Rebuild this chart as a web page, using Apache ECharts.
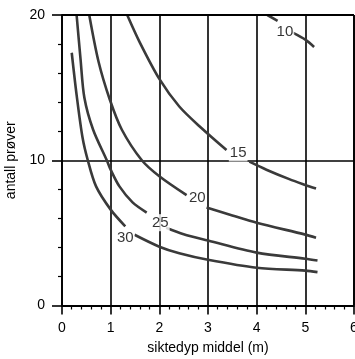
<!DOCTYPE html>
<html>
<head>
<meta charset="utf-8">
<script src="https://cdn.jsdelivr.net/npm/echarts@6/dist/echarts.min.js"></script>
<style>
  html, body { margin: 0; padding: 0; background: #fff; }
  #chart { width: 355px; height: 359px; }
</style>
</head>
<body>
<div id="chart"></div>
<script>
// curves, each broken where its label sits (a = before label, b = after)
var c10a = [[4.22, 20], [4.43, 19.6]];
var c10b = [[4.73, 18.8], [5.0, 18.3], [5.18, 17.8]];
var c15a = [[1.34, 20], [1.6, 18.1], [2.0, 15.6], [2.41, 13.7], [2.87, 12.2], [3.38, 10.7]];
var c15b = [[3.85, 9.9], [4.2, 9.35], [4.67, 8.7], [5.0, 8.3], [5.22, 8.05]];
var c20a = [[0.56, 20], [0.75, 16.8], [0.98, 14.2], [1.23, 12.1], [1.64, 10.0], [2.0, 8.9], [2.56, 7.6]];
var c20b = [[2.97, 6.74], [3.5, 6.2], [4.0, 5.7], [5.0, 4.88], [5.22, 4.67]];
var c25a = [[0.3, 20], [0.38, 17], [0.46, 14.3], [0.64, 12.1], [0.92, 10], [1.0, 9.35], [1.18, 8.2], [1.45, 7.1], [1.74, 6.4]];
var c25b = [[2.14, 5.35], [2.5, 4.9], [3.0, 4.47], [4.0, 3.64], [5.0, 3.22], [5.25, 3.1]];
var c30a = [[0.2, 17.4], [0.3, 14.5], [0.42, 11.6], [0.53, 10], [0.7, 8.2], [1.0, 6.6], [1.3, 5.45]];
var c30b = [[1.49, 4.87], [2.0, 4.05], [2.41, 3.6], [3.0, 3.15], [4.0, 2.6], [5.0, 2.4], [5.25, 2.3]];

var labelText = ['10', '15', '20', '25', '30'];
var labelAt = [[4.58, 18.85], [3.62, 10.5], [2.78, 7.4], [2.02, 5.7], [1.3, 4.65]];

var xTicks = [0, 1, 2, 3, 4, 5, 6];
var yTicks = [0, 10, 20];

var xMin = xTicks[0], xMax = xTicks[xTicks.length - 1];
var yMin = yTicks[0], yMax = yTicks[yTicks.length - 1];

var chart = echarts.init(document.getElementById('chart'));

function curve(d) {
  return {
    type: 'line',
    data: d,
    smooth: 0.3,
    showSymbol: false,
    lineStyle: { color: '#3a3a3a', width: 2.6 },
    z: 3
  };
}

var ser = [c10a, c10b, c15a, c15b, c20a, c20b, c25a, c25b, c30a, c30b].map(curve);

// top and right edges of the frame, drawn through the axes
function edge(d) {
  return {
    type: 'line',
    data: d,
    clip: false,
    showSymbol: false,
    silent: true,
    lineStyle: { color: '#000', width: 1.8 },
    z: 4
  };
}
ser.push(edge([[xMin, yMax], [xMax, yMax]]));
ser.push(edge([[xMax, yMin], [xMax, yMax]]));

ser.push({
  type: 'scatter',
  symbolSize: 0,
  z: 5,
  data: labelAt.map(function (p, i) { return { value: p, name: labelText[i] }; }),
  label: {
    show: true,
    position: 'inside',
    formatter: '{b}',
    color: '#000',
    fontFamily: 'Liberation Sans',
    fontSize: 15,
    backgroundColor: '#fff',
    padding: [1, 1]
  }
});

var axisFont = { color: '#000', fontFamily: 'Liberation Sans', fontSize: 14 };

chart.setOption({
  animation: false,
  grid: {
    left: 62, right: 1, top: 15, bottom: 53.5,
    outerBoundsMode: 'none', containLabel: false
  },
  xAxis: {
    type: 'value',
    min: xMin, max: xMax, interval: 1,
    name: 'siktedyp middel (m)',
    nameLocation: 'middle',
    nameGap: 36,
    nameTextStyle: axisFont,
    axisLine: { lineStyle: { color: '#000', width: 1.8 } },
    axisTick: { show: true, inside: false, length: 9, lineStyle: { color: '#000', width: 1.6 } },
    minorTick: { show: true, splitNumber: 5, length: 4, lineStyle: { color: '#000', width: 1.2 } },
    axisLabel: Object.assign({ margin: 16 }, axisFont),
    splitLine: { show: true, lineStyle: { color: '#000', width: 1.6 } }
  },
  yAxis: {
    type: 'value',
    min: yMin, max: yMax, interval: 10,
    name: 'antall prøver',
    nameLocation: 'middle',
    nameGap: 36,
    nameTextStyle: axisFont,
    axisLine: { lineStyle: { color: '#000', width: 1.8 } },
    axisTick: { show: true, inside: false, length: 10, lineStyle: { color: '#000', width: 1.6 } },
    minorTick: { show: true, splitNumber: 5, length: 4, lineStyle: { color: '#000', width: 1.2 } },
    axisLabel: Object.assign({ margin: 17 }, axisFont),
    splitLine: { show: true, lineStyle: { color: '#000', width: 1.6 } }
  },
  series: ser
});
</script>
</body>
</html>
